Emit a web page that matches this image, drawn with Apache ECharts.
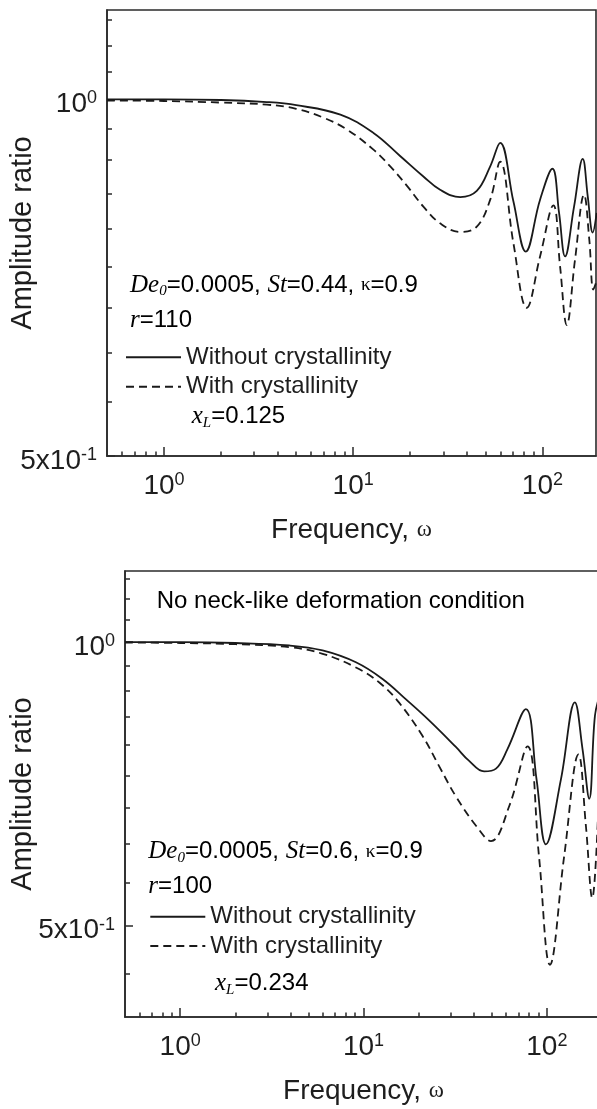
<!DOCTYPE html>
<html><head><meta charset="utf-8">
<script src="https://cdn.jsdelivr.net/npm/echarts@6/dist/echarts.min.js"></script>
<style>html,body{margin:0;padding:0;background:#fff}#c{width:597px;height:1109px}</style>
</head><body><div id="c"></div>
<script>
// ---------------- data ----------------
const seriesNames = ['Without crystallinity', 'With crystallinity'];

// upper panel
const topSolidOmega = [0.5, 1, 2, 3.5, 5, 8.56, 12.8, 17.7, 23.5, 28.8, 36.8, 45, 53, 59.8, 70.3, 81.7, 97.2, 113, 122.5, 131.8, 147, 163.4, 173.7, 184.5, 193.6];
const topSolidAmp   = [1.0, 1.0, 0.999, 0.995, 0.989, 0.971, 0.937, 0.896, 0.861, 0.839, 0.827, 0.837, 0.878, 0.919, 0.82, 0.744, 0.823, 0.874, 0.802, 0.737, 0.812, 0.891, 0.828, 0.772, 0.802];
const topDashOmega  = [0.5, 1, 2, 3.5, 5, 6.99, 9.29, 12.8, 15.7, 19.3, 23.5, 28.8, 36.8, 45, 53, 59.8, 70.3, 82.7, 97.2, 114.3, 124, 134.5, 148.7, 166, 177, 185.8, 192];
const topDashAmp    = [0.998, 0.997, 0.994, 0.99, 0.982, 0.965, 0.943, 0.907, 0.878, 0.845, 0.812, 0.786, 0.773, 0.781, 0.823, 0.886, 0.756, 0.667, 0.737, 0.814, 0.723, 0.645, 0.732, 0.831, 0.761, 0.691, 0.70];

// lower panel
const botSolidOmega = [0.5, 1, 2, 3.93, 5.98, 9.09, 12.7, 17.0, 22.8, 31.9, 37.7, 45.5, 52.8, 61, 76.9, 87.9, 98.9, 119.4, 142.2, 156.6, 170.4, 183, 195];
const botSolidAmp   = [1.0, 1.0, 0.998, 0.992, 0.980, 0.952, 0.914, 0.870, 0.826, 0.774, 0.748, 0.729, 0.734, 0.770, 0.849, 0.715, 0.610, 0.715, 0.863, 0.770, 0.682, 0.835, 0.88];
const botDashOmega  = [0.5, 1, 2, 3.93, 5.98, 9.09, 12.2, 15.6, 21, 25.8, 31.9, 41.2, 49.6, 62.4, 78.5, 90.6, 104, 124.4, 148.9, 163.4, 177, 190];
const botDashAmp    = [0.999, 0.998, 0.995, 0.988, 0.972, 0.940, 0.906, 0.863, 0.795, 0.739, 0.686, 0.638, 0.615, 0.670, 0.775, 0.593, 0.4545, 0.593, 0.760, 0.638, 0.535, 0.65];

// ticks
const xMajorTicks = [1, 10, 100];
const xMinorTicks = [0.6, 0.7, 0.8, 0.9, 2, 3, 4, 5, 6, 7, 8, 9, 20, 30, 40, 50, 60, 70, 80, 90];
const yMajorTicks = [0.5, 1];
const yMinorTicksTop = [0.5556, 0.6111, 0.6667, 0.7222, 0.7778, 0.8333, 0.8889, 0.9444, 1.0556, 1.1111, 1.1667];
const yMinorTicksBottom = [0.4444, 0.5556, 0.6111, 0.6667, 0.7222, 0.7778, 0.8333, 0.8889, 0.9444, 1.0556, 1.1111, 1.1667];

// ranges
const topX = [0.5, 192], topY = [0.5, 1.19];
const botX = [0.5, 200], botY = [0.4, 1.19];

// ---------------- styling ----------------
const SANS = 'Liberation Sans', SERIF = 'Liberation Serif';
const AX = '#2b2b2b', TXT = '#1e1e1e', CURVE = '#1a1a1a';

const tickRich = {
  b: {fontFamily: SANS, fontSize: 28, color: TXT, lineHeight: 30},
  s: {fontFamily: SANS, fontSize: 18, color: TXT, lineHeight: 10, verticalAlign: 'top'}
};
function fmtX(v) { return '{b|10}{s|' + Math.round(Math.log10(v)) + '}'; }
function fmtY(v) { return Math.abs(v - 1) < 1e-6 ? '{b|10}{s|0}' : '{b|5x10}{s|-1}'; }

function xMajor(grid, ext, gap) {
  return {
    type: 'log', logBase: 10, gridIndex: grid, min: ext[0], max: ext[1], position: 'bottom',
    name: '{a|Frequency, }{w|ω}', nameLocation: 'middle', nameGap: gap, nameMoveOverlap: false,
    nameTextStyle: {rich: {a: {fontFamily: SANS, fontSize: 28, color: TXT, lineHeight: 30},
                           w: {fontFamily: SERIF, fontSize: 23, color: TXT, lineHeight: 30}}},
    axisLine: {show: true, onZero: false, lineStyle: {color: AX, width: 1.6}},
    axisTick: {show: true, inside: true, length: 9, customValues: xMajorTicks, lineStyle: {color: AX, width: 1.5}},
    axisLabel: {show: true, customValues: xMajorTicks, margin: 15, formatter: fmtX, rich: tickRich},
    splitLine: {show: false}, minorTick: {show: false}
  };
}
function xMinor(grid, ext) {
  return {
    type: 'log', logBase: 10, gridIndex: grid, min: ext[0], max: ext[1], position: 'bottom',
    axisLine: {show: false},
    axisTick: {show: true, inside: true, length: 4.5, customValues: xMinorTicks, lineStyle: {color: AX, width: 1.5}},
    axisLabel: {show: false}, splitLine: {show: false}
  };
}
function yMajor(grid, ext, gap) {
  return {
    type: 'log', logBase: 10, gridIndex: grid, min: ext[0], max: ext[1], position: 'left',
    name: 'Amplitude ratio', nameLocation: 'middle', nameGap: gap, nameRotate: 90, nameMoveOverlap: false,
    nameTextStyle: {fontFamily: SANS, fontSize: 29, color: TXT},
    axisLine: {show: true, onZero: false, lineStyle: {color: AX, width: 1.6}},
    axisTick: {show: true, inside: true, length: 8, customValues: yMajorTicks, lineStyle: {color: AX, width: 1.5}},
    axisLabel: {show: true, customValues: yMajorTicks, margin: 10, padding: [10, 0, 0, 0], formatter: fmtY, rich: tickRich},
    splitLine: {show: false}, minorTick: {show: false}
  };
}
function yMinor(grid, ext, ticks) {
  return {
    type: 'log', logBase: 10, gridIndex: grid, min: ext[0], max: ext[1], position: 'left',
    axisLine: {show: false},
    axisTick: {show: true, inside: true, length: 5, customValues: ticks, lineStyle: {color: AX, width: 1.5}},
    axisLabel: {show: false}, splitLine: {show: false}
  };
}
const pairs = (xs, ys) => xs.map((x, i) => [x, ys[i]]);
function curve(name, xi, yi, xs, ys, dashed) {
  return {
    type: 'line', name: name, xAxisIndex: xi, yAxisIndex: yi, data: pairs(xs, ys),
    symbol: 'none', smooth: 0.4, silent: true,
    lineStyle: {color: CURVE, width: 1.8, type: dashed ? [8, 5] : 'solid'},
    itemStyle: {color: CURVE}
  };
}
function legendAt(left, top) {
  return {
    left: left, top: top, orient: 'vertical', padding: 0, itemGap: 5.4,
    itemWidth: 55, itemHeight: 24, selectedMode: false,
    data: seriesNames,
    itemStyle: {opacity: 0},
    textStyle: {fontFamily: SANS, fontSize: 24, color: TXT, lineHeight: 24}
  };
}
const annRich = {
  i: {fontFamily: SERIF, fontStyle: 'italic', fontSize: 25, color: '#505050', lineHeight: 28},
  sub: {fontFamily: SERIF, fontStyle: 'italic', fontSize: 15, color: '#505050', lineHeight: 10, verticalAlign: 'bottom'},
  n: {fontFamily: SANS, fontSize: 24, color: TXT, lineHeight: 28},
  k: {fontFamily: SERIF, fontSize: 19, color: '#3a3a3a', lineHeight: 28}
};
function ann(x, y, text) {
  return {type: 'text', x: x, y: y, silent: true,
          style: {text: text, rich: annRich, align: 'left', verticalAlign: 'middle'}};
}

const option = {
  animation: false,
  backgroundColor: '#fff',
  grid: [
    {left: 107, top: 10, width: 489, height: 446, show: true, borderColor: AX, borderWidth: 1.6, containLabel: false, outerBoundsMode: 'none'},
    {left: 125, top: 571, width: 477, height: 446, show: true, borderColor: AX, borderWidth: 1.6, containLabel: false, outerBoundsMode: 'none'}
  ],
  xAxis: [xMajor(0, topX, 59), xMinor(0, topX), xMajor(1, botX, 59), xMinor(1, botX)],
  yAxis: [yMajor(0, topY, 70), yMinor(0, topY, yMinorTicksTop), yMajor(1, botY, 88), yMinor(1, botY, yMinorTicksBottom)],
  legend: [legendAt(125, 345.3), legendAt(149.3, 904.7)],
  series: [
    curve(seriesNames[0], 0, 0, topSolidOmega, topSolidAmp, false),
    curve(seriesNames[1], 0, 0, topDashOmega, topDashAmp, true),
    curve(seriesNames[0], 2, 2, botSolidOmega, botSolidAmp, false),
    curve(seriesNames[1], 2, 2, botDashOmega, botDashAmp, true)
  ],
  graphic: [
    ann(130, 285, '{i|De}{sub|0}{n|=0.0005, }{i|St}{n|=0.44, }{k|κ}{n|=0.9}'),
    ann(130, 320.7, '{i|r}{n|=110}'),
    ann(191.7, 416.7, '{i|x}{sub|L}{n|=0.125}'),
    ann(156.7, 601.7, '{n|No neck-like deformation condition}'),
    ann(148.3, 851.7, '{i|De}{sub|0}{n|=0.0005, }{i|St}{n|=0.6, }{k|κ}{n|=0.9}'),
    ann(148.3, 886.7, '{i|r}{n|=100}'),
    ann(215, 983.3, '{i|x}{sub|L}{n|=0.234}')
  ]
};
const chart = echarts.init(document.getElementById('c'), null, {renderer: 'canvas'});
chart.setOption(option);
</script></body></html>
